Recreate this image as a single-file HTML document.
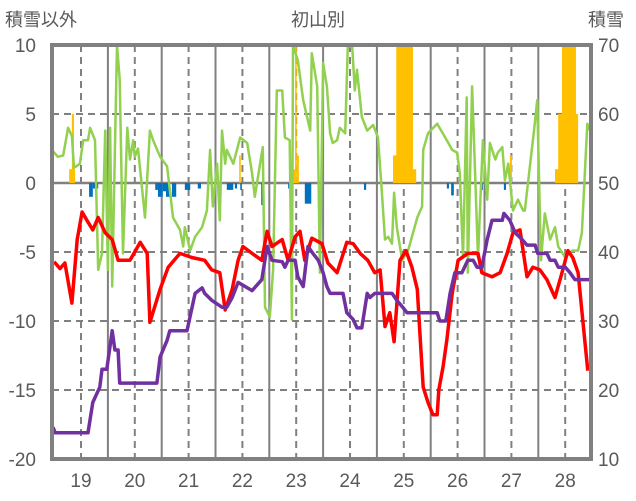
<!DOCTYPE html>
<html><head><meta charset="utf-8"><style>
html,body{margin:0;padding:0;background:#fff;}
svg{display:block;font-family:"Liberation Sans","Noto Sans CJK JP",sans-serif;}
text{fill:#595959;}
</style></head><body>
<svg id="chart" width="636" height="501" viewBox="0 0 636 501" xmlns="http://www.w3.org/2000/svg">
<text x="5" y="26" font-size="18">積雪以外</text>
<text x="318" y="26" font-size="18" text-anchor="middle">初山別</text>
<text x="588" y="26" font-size="18">積雪</text>
<g id="grid"></g>
<g id="bars"></g>
<g id="lines"></g>
<g id="axes"></g>
</svg>
<script>
const leftTicks=[10,5,0,-5,-10,-15,-20];
const rightTicks=[70,60,50,40,30,20,10];
const years=[19,20,21,22,23,24,25,26,27,28];

const redT=[18.50,18.61,18.70,18.83,18.93,19.02,19.11,19.22,19.32,19.45,19.58,19.69,19.91,20.10,20.23,20.28,20.47,20.62,20.84,21.06,21.30,21.43,21.58,21.68,21.81,21.92,22.01,22.18,22.36,22.46,22.55,22.74,22.85,22.98,23.07,23.16,23.29,23.48,23.59,23.76,23.94,24.06,24.19,24.33,24.46,24.56,24.65,24.74,24.82,24.93,25.04,25.15,25.25,25.30,25.36,25.45,25.54,25.62,25.65,25.73,25.80,25.90,26.01,26.19,26.38,26.45,26.64,26.79,26.92,27.03,27.16,27.29,27.40,27.53,27.66,27.81,27.94,28.05,28.14,28.24,28.33,28.42];
const redV=[-5.7,-6.2,-5.8,-8.7,-4.1,-2.1,-2.7,-3.4,-2.5,-3.6,-4.1,-5.6,-5.6,-4.3,-5.1,-10.1,-7.7,-6.1,-5.1,-5.4,-5.6,-6.3,-6.5,-9.2,-7.7,-5.6,-4.6,-5.1,-5.6,-3.5,-4.6,-4.1,-5.6,-3.9,-3.5,-5.6,-4.0,-4.4,-5.8,-6.5,-4.3,-4.4,-5.1,-5.6,-6.5,-6.3,-10.4,-9.4,-11.5,-5.6,-4.9,-6.1,-7.7,-10.9,-14.8,-15.9,-16.8,-16.8,-15.0,-13.3,-11.4,-8.0,-5.6,-5.1,-5.1,-6.5,-6.8,-6.5,-5.1,-3.6,-3.4,-6.8,-6.1,-6.3,-7.0,-8.3,-6.5,-4.9,-5.4,-6.5,-10.1,-13.6];

const purpleT=[18.48,18.52,19.13,19.22,19.35,19.39,19.48,19.58,19.63,19.69,19.72,20.41,20.47,20.60,20.65,20.97,21.12,21.25,21.30,21.43,21.62,21.71,21.81,21.92,22.18,22.36,22.46,22.55,22.74,22.79,22.85,22.98,23.03,23.13,23.22,23.31,23.41,23.50,23.57,23.63,23.87,23.94,24.06,24.13,24.22,24.32,24.37,24.46,24.78,24.87,24.98,25.06,25.62,25.67,25.78,25.86,25.95,26.08,26.19,26.29,26.36,26.45,26.55,26.64,26.83,26.86,26.97,27.07,27.20,27.29,27.44,27.49,27.66,27.72,27.81,27.87,28.00,28.09,28.18,28.46];
const purpleV=[-17.7,-18.1,-18.1,-15.9,-14.8,-13.5,-13.5,-10.7,-12.1,-12.1,-14.5,-14.5,-12.6,-11.4,-10.7,-10.7,-8,-7.6,-8,-8.5,-9,-9,-8.3,-7.2,-7.8,-7,-4.6,-5.6,-5.7,-6.1,-5.6,-5.6,-6.8,-7.5,-4.6,-5.1,-5.6,-6.5,-7.5,-8,-8,-9.4,-9.9,-10.5,-10.5,-8,-8.3,-8,-8,-8.5,-9,-9.4,-9.4,-10,-10,-8,-6.5,-6.5,-5.6,-5.6,-6.1,-6.1,-4.1,-2.7,-2.7,-2.2,-2.7,-3.6,-4.1,-4.5,-4.5,-5.1,-5.1,-5.6,-5.6,-6.1,-6.1,-6.5,-7,-7];

const greenT=[18.48,18.57,18.67,18.76,18.83,18.87,18.98,19.04,19.13,19.17,19.26,19.32,19.39,19.45,19.50,19.54,19.58,19.67,19.72,19.78,19.86,19.91,19.97,20.00,20.06,20.19,20.28,20.34,20.47,20.60,20.71,20.84,20.90,20.93,21.03,21.12,21.25,21.34,21.40,21.45,21.53,21.58,21.62,21.68,21.71,21.83,21.96,22.09,22.18,22.23,22.38,22.42,22.51,22.57,22.64,22.74,22.79,22.88,22.92,22.94,23.03,23.13,23.26,23.29,23.39,23.44,23.50,23.57,23.63,23.68,23.76,23.81,23.91,23.96,24.04,24.09,24.13,24.22,24.32,24.43,24.52,24.59,24.65,24.71,24.78,24.82,24.87,24.97,25.08,25.25,25.34,25.36,25.45,25.62,25.80,25.90,25.99,26.04,26.10,26.17,26.19,26.27,26.38,26.47,26.55,26.60,26.70,26.75,26.83,26.88,26.94,27.03,27.12,27.22,27.25,27.38,27.42,27.48,27.55,27.62,27.72,27.81,27.87,28.00,28.13,28.24,28.31,28.41,28.46];
const greenV=[2.3,1.9,2,4,3.4,1.1,1.4,3.1,3.1,4,3.1,-6.3,-5.1,3.8,-6.3,4,-7.5,10,7.5,-5.1,4,1.7,3.1,1.9,2.5,-2.5,3.8,3.1,1.9,1.2,-2.5,-3.4,-4.6,-3.2,-4.9,-3.9,-3.2,-2,2.4,-1.7,1.4,-2.7,3.8,1.4,2.4,1.4,3.3,2.9,0.7,-1,2.6,-9,-9.7,-6.3,6.7,6.7,3.3,3.1,-9.9,10,8.9,6,3.8,9.4,7,-6.5,8.7,7,3.6,2.9,3.1,4,3.6,9.9,9.9,6.7,8.2,4.8,3.8,4.2,3.3,-0.5,-4.1,-3.9,-4.4,-0.7,-3.2,-5.6,-4.9,-2.5,-1.7,2.4,3.6,4.3,3.1,2.4,2.2,0.7,-5.4,6.2,-6.5,7,-5.4,3.1,-1.2,2.9,1.7,2.2,2.6,0.2,1.4,-2,-1.2,-2,-2,2.4,3.8,6,-5.6,-2.2,-4.1,-3.2,-4.6,-5.4,-4.9,-4.9,-3.6,4.3,3.8,3.6];

const orangeStart=[18.78,18.83,21.94,22.90,22.98,23.01,24.80,24.86,25.15,26.97,27.81,27.87,27.94,28.18];
const orangeEnd=[18.89,18.87,21.97,23.00,23.01,23.05,24.89,25.17,25.23,27.01,27.88,27.94,28.20,28.24];
const orangeV=[1,5,2,1,10,2,2,10,1,2,1,5,10,5];

const blueStart=[19.15,19.22,20.38,20.43,20.52,20.58,20.69,20.93,21.17,21.71,21.86,21.96,22.35,22.85,23.16,24.26,25.80,25.88,26.43,26.86];
const blueEnd=[19.22,19.32,20.43,20.52,20.58,20.65,20.77,21.03,21.23,21.83,21.90,21.99,22.38,22.94,23.28,24.30,25.84,25.93,26.47,26.90];
const blueV=[-1,-0.4,-0.5,-1,-0.6,-1,-1,-0.5,-0.4,-0.5,-0.4,-0.5,-1.6,-0.4,-1.5,-0.5,-0.4,-0.9,-0.5,-0.5];

const L=52,R=591,T=45,B=459;
function X(t){return 81+(t-19)*53.8;}
function Y(v){return 183-v*13.8;}
const NS='http://www.w3.org/2000/svg';
function mk(tag,parent,attrs){const e=document.createElementNS(NS,tag);for(const k in attrs)e.setAttribute(k,attrs[k]);parent.appendChild(e);return e;}
const grid=document.getElementById('grid'),bars=document.getElementById('bars'),lines=document.getElementById('lines'),axes=document.getElementById('axes');

leftTicks.forEach(v=>{
  if(v===10||v===-20)return;
  const ln=mk('line',grid,{x1:L,x2:R,y1:Y(v),y2:Y(v),stroke:'#808080','stroke-width':v===0?2.5:2,'stroke-dasharray':v===0?'none':'7,5'});
  
  
});
years.forEach(y=>{
  const d=mk('line',grid,{x1:X(y),x2:X(y),y1:T,y2:B,stroke:'#808080','stroke-width':2,'stroke-dasharray':'7,5'});
  
  
  if(y<28){
    const s=mk('line',grid,{x1:X(y+0.5),x2:X(y+0.5),y1:T,y2:B,stroke:'#808080','stroke-width':2});
    
    
  }
});

orangeV.forEach((v,i)=>{
  const x1=X(orangeStart[i]),x2=X(orangeEnd[i]);
  const r=mk('rect',bars,{x:x1,y:Y(v),width:Math.max(1.5,x2-x1),height:Y(0)-Y(v),fill:'#FFC000'});
  
  
});
blueV.forEach((v,i)=>{
  const x1=X(blueStart[i]),x2=X(blueEnd[i]);
  const r=mk('rect',bars,{x:x1,y:Y(0),width:Math.max(1.5,x2-x1),height:Y(v)-Y(0),fill:'#0070C0'});
  
  
});

function series(ts,vs,color,w,name){
  const d=ts.map((t,i)=>(i?'L':'M')+X(t).toFixed(1)+','+Y(vs[i]).toFixed(1)).join('');
  const p=mk('path',lines,{d:d,fill:'none',stroke:color,'stroke-width':w,'stroke-linejoin':'round'});
  
  
}
series(greenT,greenV,'#92D050',2.5,'green-series');
series(redT,redV,'#FF0000',3.5,'red-series');
series(purpleT,purpleV,'#7030A0',3.5,'purple-series');

const frame=mk('rect',axes,{x:L,y:T,width:R-L,height:B-T,fill:'none',stroke:'#808080','stroke-width':4});



leftTicks.forEach(v=>{
  const t=mk('text',axes,{x:36,y:Y(v)+7,'font-size':19,'text-anchor':'end'});
  t.textContent=String(v);
  
  
});
rightTicks.forEach((v,i)=>{
  const t=mk('text',axes,{x:598,y:Y(leftTicks[i])+7,'font-size':19});
  t.textContent=String(v);
  
  
});
years.forEach(y=>{
  const t=mk('text',axes,{x:X(y),y:487,'font-size':19,'text-anchor':'middle'});
  t.textContent=String(y);
  
  
});
</script>
</body></html>
